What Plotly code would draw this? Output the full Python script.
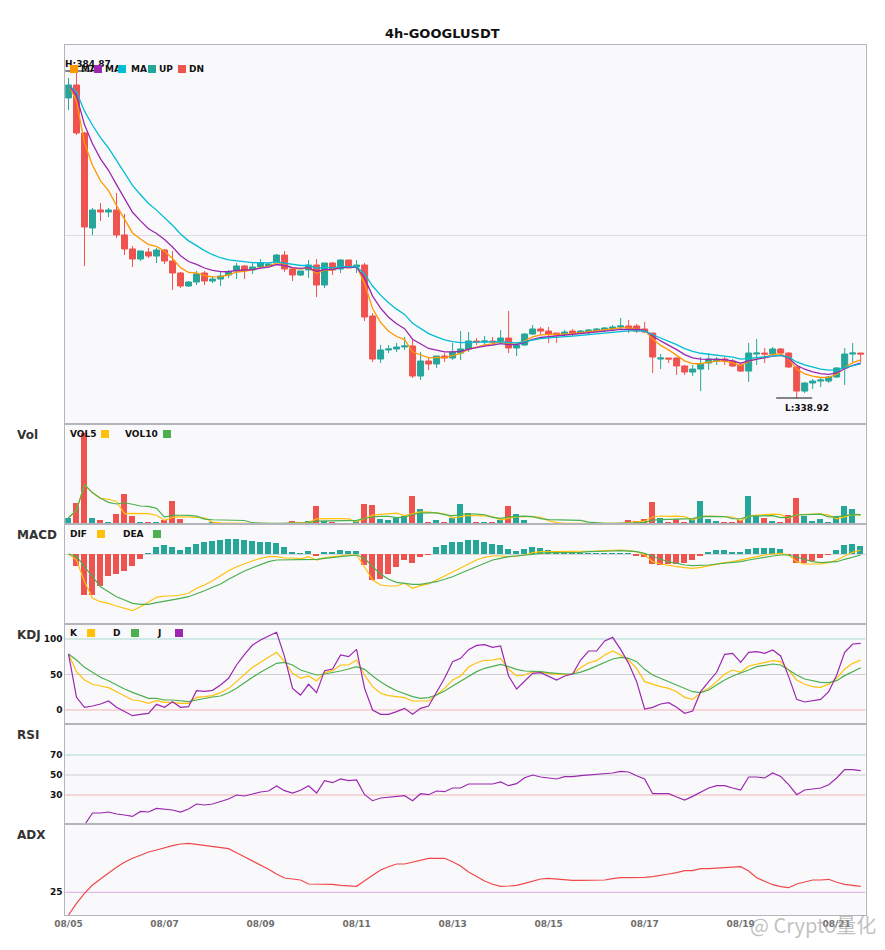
import pandas as pd
import plotly.graph_objects as go

# ---------------- data ----------------
TITLE = "4h-GOOGLUSDT"
times = pd.date_range("2025-08-05 00:00", periods=100, freq="4h")

open_ = [381.08, 382.90, 376.16, 362.81, 365.34, 365.06, 365.34, 361.83, 359.86, 358.45,
         359.44, 358.87, 359.72, 358.17, 356.49, 354.66, 355.22, 356.49, 355.36, 355.64,
         356.20, 356.77, 357.47, 356.91, 357.33, 357.47, 358.03, 359.01, 357.05, 356.20,
         356.91, 357.61, 354.80, 357.89, 357.05, 358.31, 357.33, 357.61, 350.44, 344.40,
         345.67, 345.81, 346.09, 346.23, 342.01, 344.12, 343.70, 344.82, 344.54, 345.24,
         345.81, 346.93, 346.79, 346.93, 346.93, 347.35, 345.95, 346.37, 347.91, 348.62,
         348.33, 348.05, 347.91, 348.33, 348.05, 348.19, 348.33, 348.48, 348.62, 348.90,
         349.04, 349.04, 348.62, 348.05, 344.40, 344.54, 344.54, 343.42, 342.57, 342.99,
         343.84, 344.12, 344.40, 344.12, 343.56, 342.71, 345.10, 345.24, 345.10, 345.81,
         345.24, 343.28, 339.90, 341.03, 341.31, 341.31, 341.87, 343.14, 345.10, 345.24]
high = [383.89, 384.87, 376.30, 365.62, 366.32, 365.62, 367.73, 364.78, 360.28, 359.58,
        360.00, 360.00, 359.86, 359.58, 356.63, 355.36, 356.77, 356.77, 356.06, 356.63,
        356.91, 357.89, 357.61, 357.89, 358.45, 357.89, 359.15, 359.58, 357.05, 356.77,
        358.31, 358.45, 357.89, 358.03, 358.45, 358.31, 358.31, 357.89, 350.86, 346.37,
        346.37, 346.65, 347.49, 347.07, 345.38, 344.68, 344.82, 345.24, 346.65, 348.33,
        348.19, 347.35, 347.63, 347.49, 348.48, 351.15, 346.79, 348.05, 349.18, 348.90,
        348.90, 348.05, 348.48, 348.62, 348.48, 348.62, 348.76, 348.90, 349.18, 350.16,
        349.88, 349.32, 349.60, 348.05, 345.10, 344.54, 344.68, 343.56, 343.56, 344.68,
        345.24, 344.68, 344.68, 344.40, 343.84, 346.65, 347.21, 345.95, 346.09, 345.95,
        345.38, 343.42, 341.17, 341.59, 341.87, 342.01, 343.28, 345.95, 346.65, 345.24]
low = [379.39, 375.88, 357.47, 361.83, 363.79, 364.35, 361.40, 359.01, 357.33, 358.17,
       358.59, 357.89, 357.75, 354.10, 354.38, 354.52, 354.80, 354.80, 355.08, 354.66,
       355.78, 355.64, 355.64, 356.34, 357.19, 357.33, 357.89, 356.63, 355.36, 356.06,
       355.78, 353.11, 354.38, 356.20, 356.49, 357.19, 356.49, 349.74, 343.98, 343.84,
       345.24, 345.38, 345.67, 341.73, 341.45, 342.85, 343.14, 343.98, 344.26, 344.26,
       345.38, 346.37, 346.09, 346.37, 346.65, 345.24, 344.82, 346.23, 347.77, 347.77,
       346.65, 346.65, 347.49, 347.63, 347.91, 347.91, 348.19, 348.19, 348.33, 348.48,
       348.05, 348.05, 348.05, 342.43, 342.99, 343.84, 342.15, 342.15, 342.01, 339.90,
       342.85, 343.56, 343.56, 343.28, 342.57, 341.17, 343.56, 343.84, 344.96, 344.96,
       343.14, 338.92, 339.62, 340.19, 340.47, 341.03, 341.73, 340.75, 343.84, 343.98]
close = [382.90, 376.16, 362.95, 365.34, 365.06, 365.34, 361.83, 359.86, 358.45, 359.58,
         358.87, 359.72, 358.17, 356.49, 354.66, 355.22, 356.34, 355.36, 355.64, 356.06,
         356.63, 357.47, 356.91, 357.33, 357.89, 357.75, 359.01, 357.05, 356.20, 356.77,
         357.61, 354.80, 357.89, 356.91, 358.31, 357.19, 357.61, 350.30, 344.40, 345.67,
         345.81, 346.09, 346.23, 342.01, 344.12, 343.70, 344.82, 344.54, 345.38, 345.81,
         346.93, 346.79, 346.93, 346.79, 347.35, 345.95, 346.37, 347.91, 348.62, 348.33,
         347.91, 347.77, 348.19, 348.05, 348.33, 348.48, 348.62, 348.76, 348.90, 349.04,
         348.76, 348.33, 348.19, 344.68, 344.54, 344.40, 343.42, 342.57, 342.99, 343.70,
         344.40, 344.40, 344.12, 343.42, 342.71, 345.24, 345.24, 345.10, 345.81, 345.24,
         343.28, 339.90, 341.03, 341.31, 341.45, 341.87, 343.14, 345.10, 345.24, 345.10]
volume = [6.3, 21.3, 90.7, 6.3, 4.0, 1.3, 10.0, 30.0, 8.0, 2.0,
          2.0, 2.0, 4.0, 23.0, 5.0, 1.0, 1.0, 1.0, 1.7, 0.7,
          0.5, 0.6, 0.5, 0.4, 0.5, 0.4, 0.6, 0.7, 3.0, 0.7,
          3.0, 18.0, 3.0, 2.3, 1.0, 1.0, 3.0, 20.0, 19.0, 5.0,
          4.0, 6.3, 8.0, 28.0, 14.7, 2.3, 4.0, 2.3, 6.3, 20.0,
          10.7, 2.0, 2.0, 2.0, 4.0, 18.0, 10.0, 4.0, 1.0, 0.3,
          1.0, 1.0, 0.3, 0.3, 0.3, 0.5, 0.3, 1.0, 1.0, 1.0,
          4.0, 3.0, 5.0, 22.0, 6.0, 2.0, 4.7, 2.0, 5.0, 23.0,
          5.0, 3.0, 2.0, 2.0, 4.0, 28.0, 8.0, 6.0, 3.0, 2.0,
          9.0, 26.0, 8.0, 3.0, 5.0, 2.0, 8.0, 18.0, 15.0, 0.3]
dif = [0.0, -0.6, -2.77, -4.43, -4.77, -4.93, -5.2, -5.47, -5.67, -5.27,
       -4.77, -4.33, -4.2, -4.2, -4.1, -3.93, -3.43, -3.1, -2.67, -2.13,
       -1.67, -1.27, -0.93, -0.67, -0.43, -0.27, -0.27, -0.4, -0.4, -0.48,
       -0.27, -0.6, -0.37, -0.27, -0.17, -0.1, -0.1, -1.27, -2.6, -3.1,
       -3.2, -3.2, -2.93, -3.43, -3.17, -3.0, -2.6, -2.2, -1.77, -1.33,
       -0.93, -0.6, -0.33, -0.2, -0.2, -0.27, -0.2, -0.1, 0.13, 0.23,
       0.23, 0.23, 0.23, 0.23, 0.28, 0.3, 0.3, 0.33, 0.4, 0.4,
       0.33, 0.23, -0.1, -0.77, -1.0, -1.17, -1.27, -1.37, -1.43, -1.33,
       -1.17, -1.0, -0.87, -0.77, -0.6, -0.37, -0.2, -0.1, 0.0, 0.07,
       -0.1, -0.77, -1.0, -1.0, -1.0, -0.87, -0.6, -0.2, 0.17, 0.4]
dea = [0.0, -0.23, -1.27, -2.27, -3.27, -3.77, -4.27, -4.6, -4.93, -5.03,
       -5.03, -4.87, -4.7, -4.53, -4.43, -4.27, -4.0, -3.67, -3.33, -3.0,
       -2.53, -2.1, -1.7, -1.37, -1.03, -0.77, -0.6, -0.6, -0.6, -0.53,
       -0.53, -0.53, -0.43, -0.33, -0.27, -0.17, -0.1, -0.43, -1.27, -2.0,
       -2.53, -2.83, -2.93, -3.03, -3.03, -2.93, -2.77, -2.53, -2.27, -1.93,
       -1.6, -1.2, -0.87, -0.6, -0.43, -0.27, -0.2, -0.1, -0.03, 0.07,
       0.13, 0.13, 0.13, 0.13, 0.17, 0.23, 0.23, 0.23, 0.3, 0.33,
       0.3, 0.23, 0.07, -0.27, -0.53, -0.77, -0.93, -1.1, -1.17, -1.17,
       -1.1, -1.0, -0.93, -0.87, -0.77, -0.6, -0.43, -0.33, -0.2, -0.1,
       -0.1, -0.33, -0.53, -0.77, -0.87, -0.83, -0.77, -0.53, -0.33, -0.1]
macd_hist = [0.0, -1.23, -4.07, -4.07, -3.23, -2.23, -1.97, -1.67, -1.23, -0.47,
             0.1, 0.7, 0.93, 0.7, 0.43, 0.7, 1.03, 1.17, 1.27, 1.37,
             1.5, 1.53, 1.37, 1.27, 1.17, 1.17, 1.1, 0.67, 0.2, 0.1,
             0.3, -0.2, 0.2, 0.2, 0.43, 0.3, 0.3, -1.1, -2.6, -2.53,
             -2.0, -1.27, -0.6, -0.87, -0.27, -0.1, 0.67, 0.87, 1.17, 1.23,
             1.43, 1.37, 1.23, 1.03, 0.93, 0.53, 0.3, 0.53, 0.73, 0.63,
             0.43, 0.2, 0.1, 0.1, 0.1, 0.1, 0.05, 0.05, 0.1, 0.1,
             0.05, -0.17, -0.27, -1.0, -1.1, -1.0, -1.0, -0.93, -0.6, -0.2,
             0.2, 0.43, 0.43, 0.23, 0.13, 0.53, 0.63, 0.63, 0.63, 0.53,
             -0.03, -0.87, -0.87, -0.7, -0.37, -0.1, 0.43, 0.93, 1.03, 0.83]
k_val = [78.9, 54.0, 42.3, 36.2, 33.8, 31.5, 25.8, 19.7, 14.1, 12.7,
         9.4, 13.1, 10.8, 10.8, 9.4, 9.4, 17.8, 18.8, 20.2, 24.4,
         30.5, 39.9, 50.7, 60.1, 67.1, 74.2, 81.2, 68.1, 51.6, 44.6,
         47.9, 40.8, 52.6, 55.4, 63.4, 63.4, 70.4, 49.3, 32.9, 23.5,
         20.2, 18.8, 17.4, 12.7, 12.7, 12.7, 21.1, 30.5, 42.3, 47.9,
         60.5, 66.5, 70.0, 70.4, 72.8, 57.3, 47.9, 49.3, 54.0, 53.1,
         51.6, 50.2, 50.7, 50.7, 59.6, 66.6, 69.5, 77.5, 83.1, 77.5,
         70.4, 58.7, 39.9, 36.2, 32.9, 30.5, 25.8, 17.8, 15.0, 24.4,
         30.5, 39.9, 50.7, 56.3, 53.1, 62.0, 64.8, 67.1, 69.5, 68.1,
         56.3, 42.3, 36.2, 32.9, 31.9, 36.2, 44.6, 57.7, 65.7, 70.4]
d_val = [78.9, 70.4, 60.1, 52.6, 46.0, 41.3, 35.2, 29.6, 24.9, 21.1,
         16.4, 16.4, 14.1, 14.1, 12.7, 11.7, 14.1, 16.4, 18.3, 19.7,
         24.4, 30.5, 38.5, 46.0, 53.1, 59.6, 65.7, 67.1, 63.4, 56.3,
         52.6, 49.3, 50.7, 52.6, 54.9, 57.7, 61.0, 57.3, 47.9, 39.9,
         32.9, 27.2, 22.5, 18.8, 16.4, 17.4, 21.1, 26.8, 33.8, 40.8,
         47.9, 54.0, 58.7, 62.0, 64.3, 61.0, 57.3, 54.9, 54.9, 54.0,
         52.6, 51.6, 50.7, 50.7, 53.3, 57.3, 62.0, 66.6, 71.8, 74.2,
         72.8, 68.1, 57.3, 49.3, 44.6, 39.9, 35.2, 30.5, 25.8, 24.4,
         28.2, 35.2, 42.3, 47.9, 51.6, 56.3, 61.0, 63.4, 64.8, 63.4,
         56.3, 49.3, 43.7, 41.3, 39.0, 38.5, 41.3, 48.4, 54.0, 59.6]
j_val = [78.9, 17.9, 3.8, 5.6, 8.5, 12.7, 3.8, -2.3, -8.0, -6.1,
         -4.7, 8.0, 3.8, 11.7, 3.8, 4.7, 27.2, 26.3, 27.7, 35.2,
         44.6, 63.4, 78.4, 91.5, 98.6, 104.2, 109.4, 75.1, 30.5, 21.1,
         36.2, 24.4, 55.4, 57.7, 77.5, 75.1, 85.4, 30.5, 0.0, -6.1,
         -6.1, -2.3, 2.3, -6.1, 2.3, 5.6, 25.8, 44.6, 68.1, 72.8,
         85.0, 91.0, 92.0, 88.3, 90.1, 47.9, 29.6, 39.9, 51.6, 52.6,
         47.9, 42.3, 47.9, 50.7, 70.4, 83.1, 83.1, 97.2, 102.3, 85.4,
         65.7, 39.9, 1.4, 3.8, 8.5, 10.3, 3.8, -4.7, -1.4, 25.8,
         39.9, 53.1, 78.4, 79.8, 67.1, 81.2, 82.2, 79.8, 84.5, 76.1,
         47.0, 15.0, 11.3, 12.7, 15.0, 25.8, 49.3, 81.2, 93.0, 93.9]
rsi = [None, 0.0, 0.0, 12.0, 12.0, 13.0, 11.0, 10.0, 8.6, 13.6,
       13.0, 16.6, 16.0, 15.0, 13.0, 16.0, 21.0, 20.0, 21.0, 23.6,
       26.0, 30.0, 29.0, 31.0, 33.0, 34.0, 39.0, 34.3, 32.0, 34.8,
       39.3, 32.0, 44.3, 42.3, 46.0, 44.3, 45.0, 30.3, 24.3, 27.0,
       28.0, 29.0, 29.3, 24.3, 31.3, 30.3, 34.0, 33.3, 37.0, 37.0,
       41.0, 41.0, 41.0, 41.0, 43.0, 39.3, 41.3, 47.3, 50.0, 48.0,
       47.0, 46.0, 48.3, 48.3, 49.3, 50.0, 50.0, 51.0, 52.0, 53.6,
       53.0, 49.3, 46.0, 31.3, 31.3, 31.3, 28.0, 25.0, 28.6, 32.6,
       37.0, 39.3, 39.3, 37.0, 35.0, 48.0, 48.0, 47.0, 52.0, 48.6,
       40.3, 30.3, 35.0, 36.0, 37.0, 40.3, 47.0, 55.3, 55.3, 54.3]
adx = [13.65, 19.5, 24.5, 28.65, 31.65, 34.8, 37.5, 40.0, 42.0, 43.5,
       45.15, 46.15, 47.3, 48.3, 49.15, 49.5, 49.0, 48.5, 48.0, 47.5,
       46.8, 44.8, 42.8, 40.8, 38.5, 36.5, 34.15, 32.15, 31.65, 31.15,
       29.15, 29.15, 29.15, 29.0, 28.5, 28.15, 28.0, 30.8, 33.65, 36.15,
       37.8, 39.15, 39.15, 40.0, 40.8, 42.0, 42.0, 42.0, 40.3, 38.15,
       35.15, 33.0, 30.65, 29.0, 28.0, 28.15, 28.5, 29.5, 30.65, 31.65,
       32.0, 31.65, 31.15, 31.0, 31.0, 31.0, 31.0, 31.15, 31.8, 32.3,
       32.3, 32.3, 32.5, 32.8, 33.3, 34.15, 34.8, 35.8, 35.8, 36.8,
       36.8, 37.0, 37.5, 37.5, 37.8, 35.65, 32.3, 30.5, 28.8, 27.8,
       27.3, 29.15, 30.3, 31.15, 31.15, 31.5, 30.0, 29.0, 28.5, 28.0]

tick_dates = ["2025-08-05", "2025-08-07", "2025-08-09", "2025-08-11", "2025-08-13",
              "2025-08-15", "2025-08-17", "2025-08-19", "2025-08-21"]
tick_labels = ["08/05", "08/07", "08/09", "08/11", "08/13", "08/15", "08/17", "08/19", "08/21"]

for arr in (open_, high, low, close, volume, dif, dea, macd_hist, k_val, d_val, j_val, rsi, adx):
    assert len(arr) == 100, len(arr)

# ---------------- derived series ----------------
cs = pd.Series(close)
ma_a = cs.ewm(span=5, adjust=False).mean()
ma_b = cs.ewm(span=8, adjust=False).mean()
ma_c = cs.ewm(span=13, adjust=False).mean()
vs = pd.Series(volume)
vol5 = vs.rolling(5, min_periods=1).mean()
vol10 = vs.rolling(10, min_periods=1).mean()

# ---------------- style ----------------
W, H = 885, 950
FONT = "DejaVu Sans"
UP, DN = "#26a69a", "#ef5350"
C_MA5, C_MA10, C_MA20 = "#ff9800", "#9c27b0", "#00bcd4"
YEL, GRN, PUR = "#ffc107", "#4caf50", "#9c27b0"
AX = "#b4b4bc"
BG = "#f9f9fb"
HOUR = 3600 * 1000
bar_w = 3 * HOUR

def px_x(x):
    return x / W

def px_y(y):
    return 1 - y / H

xd = [px_x(65.3), px_x(865.5)]
panels = {  # pixel top/bottom of each panel
    "": (45, 424), "2": (424, 524), "3": (524, 624), "4": (624, 724), "5": (724, 824), "6": (824, 915),
}
t0 = times[0]
x_range = [t0 - pd.Timedelta(hours=1.6), t0 + pd.Timedelta(hours=398.4)]

vol_colors = [UP if c >= o else DN for o, c in zip(open_, close)]
hist_colors = [UP if v >= 0 else DN for v in macd_hist]

fig = go.Figure()
fig.add_trace(go.Candlestick(
    x=times, open=open_, high=high, low=low, close=close,
    increasing=dict(line=dict(color=UP, width=1), fillcolor=UP),
    decreasing=dict(line=dict(color=DN, width=1), fillcolor=DN),
    xaxis="x", yaxis="y", hoverinfo="skip", name="K"))
for ser, col in ((ma_a, C_MA5), (ma_b, C_MA10), (ma_c, C_MA20)):
    fig.add_trace(go.Scatter(x=times, y=ser, mode="lines", line=dict(color=col, width=1.3),
                             xaxis="x", yaxis="y"))

fig.add_trace(go.Bar(x=times, y=volume, width=bar_w, marker=dict(color=vol_colors, line=dict(width=0)),
                     xaxis="x2", yaxis="y2"))
fig.add_trace(go.Scatter(x=times, y=vol5, mode="lines", line=dict(color=YEL, width=1.2), xaxis="x2", yaxis="y2"))
fig.add_trace(go.Scatter(x=times, y=vol10, mode="lines", line=dict(color=GRN, width=1.2), xaxis="x2", yaxis="y2"))

fig.add_trace(go.Bar(x=times, y=macd_hist, width=bar_w, marker=dict(color=hist_colors, line=dict(width=0)),
                     xaxis="x3", yaxis="y3"))
fig.add_trace(go.Scatter(x=times, y=dif, mode="lines", line=dict(color=YEL, width=1.2), xaxis="x3", yaxis="y3"))
fig.add_trace(go.Scatter(x=times, y=dea, mode="lines", line=dict(color=GRN, width=1.2), xaxis="x3", yaxis="y3"))

fig.add_trace(go.Scatter(x=times, y=k_val, mode="lines", line=dict(color=YEL, width=1.2), xaxis="x4", yaxis="y4"))
fig.add_trace(go.Scatter(x=times, y=d_val, mode="lines", line=dict(color=GRN, width=1.2), xaxis="x4", yaxis="y4"))
fig.add_trace(go.Scatter(x=times, y=j_val, mode="lines", line=dict(color=PUR, width=1.2), xaxis="x4", yaxis="y4"))

fig.add_trace(go.Scatter(x=times, y=rsi, mode="lines", line=dict(color=PUR, width=1.2), xaxis="x5", yaxis="y5"))
fig.add_trace(go.Scatter(x=times, y=adx, mode="lines", line=dict(color="#f04848", width=1.2), xaxis="x6", yaxis="y6"))

layout = dict(
    width=W, height=H, autosize=False, margin=dict(l=0, r=0, t=0, b=0, autoexpand=False),
    paper_bgcolor="white", plot_bgcolor=BG, showlegend=False,
    font=dict(family=FONT, size=9, color="#222"),
    boxgap=0.25, boxgroupgap=0, bargap=0, barmode="overlay", hovermode=False,
)
y_ranges = {"": [335.27, 388.52], "2": [0, 100], "3": [-7, 3], "4": [-19.72, 121.13],
            "5": [1, 101], "6": [13.65, 59.15]}
for key, (top, bot) in panels.items():
    xa = dict(type="date", range=x_range, domain=xd, anchor="y" + key, showgrid=False, zeroline=False,
              showline=True, mirror=True, linecolor=AX, linewidth=1, ticks="", showticklabels=False,
              fixedrange=True, automargin=False)
    if key == "":
        xa["rangeslider"] = dict(visible=False)
    if key == "6":
        xa.update(showticklabels=True, tickvals=tick_dates, ticktext=tick_labels,
                  tickfont=dict(family=FONT, size=9, color="#6e6e6e", weight="bold"))
    ya = dict(domain=[px_y(bot), px_y(top)], range=y_ranges[key], anchor="x" + key, showgrid=False,
              zeroline=False, showline=True, mirror=True, linecolor=AX, linewidth=1, ticks="",
              showticklabels=False, fixedrange=True, automargin=False,
              tickfont=dict(family=FONT, size=9, color="#111", weight="bold"))
    layout["xaxis" + key] = xa
    layout["yaxis" + key] = ya

layout["yaxis"].update(showgrid=True, tickvals=[361.7], gridcolor="#dcdce0", gridwidth=1)
layout["yaxis3"].update(zeroline=True, zerolinecolor="#d6d6d8", zerolinewidth=1)
layout["yaxis4"].update(showticklabels=True, tickvals=[0, 50, 100], ticktext=["0", "50", "100"])
layout["yaxis5"].update(showticklabels=True, tickvals=[30, 50, 70], ticktext=["30", "50", "70"])
layout["yaxis6"].update(showticklabels=True, tickvals=[25], ticktext=["25"])
fig.update_layout(**layout)

# reference levels
levels = [("4", 100, "#a6d9d3"), ("4", 50, "#cfcfd2"), ("4", 0, "#f5b3b3"),
          ("5", 70, "#a6d9d3"), ("5", 50, "#cfcfd2"), ("5", 30, "#f5b3b3"),
          ("6", 25, "#dcaae6")]
for key, lv, col in levels:
    fig.add_shape(type="line", xref="x%s domain" % key, yref="y" + key, x0=0, x1=1, y0=lv, y1=lv,
                  line=dict(color=col, width=1), layer="below")

# high / low markers
i_hi = max(range(len(high)), key=lambda i: high[i])
i_lo = min(range(len(low)), key=lambda i: low[i])
for idx, val, txt, yanc, ysh in ((i_hi, high[i_hi], "H:%.2f" % high[i_hi], "bottom", 0),
                                 (i_lo, low[i_lo], "L:%.2f" % low[i_lo], "top", -3)):
    tt = times[idx]
    fig.add_shape(type="line", xref="x", yref="y", x0=tt - pd.Timedelta(hours=10.25),
                  x1=tt + pd.Timedelta(hours=7.75), y0=val, y1=val, line=dict(color="#111", width=1.2))
    fig.add_annotation(x=tt, y=val, xref="x", yref="y", text="<b>%s</b>" % txt, showarrow=False,
                       xanchor="left", yanchor=yanc, xshift=-14, yshift=ysh,
                       font=dict(family=FONT, size=9, color="#111"))

def text_ann(x, y, txt, size=9, color="#111", anchor="left"):
    fig.add_annotation(x=px_x(x - (2 if anchor == "left" else 0)), y=px_y(y), xref="paper", yref="paper",
                       text="<b>%s</b>" % txt, showarrow=False, xanchor=anchor, yanchor="middle",
                       font=dict(family=FONT, size=size, color=color))

def square(x, y, color):
    fig.add_annotation(x=px_x(x), y=px_y(y), xref="paper", yref="paper", text=" ", showarrow=False,
                       xanchor="left", yanchor="middle", width=8, height=8, bgcolor=color,
                       borderpad=0, borderwidth=0, font=dict(size=6))

# title
text_ann(442.5, 34, TITLE, size=13, color="#111", anchor="center")

# price legend
for (sx, tx, col, lab) in ((70, 81, C_MA5, "MA"), (94, 105, C_MA10, "MA"), (118, 131, C_MA20, "MA"),
                           (148, 159, UP, "UP"), (178, 189, DN, "DN")):
    square(sx, 69, col)
    text_ann(tx, 69, lab)

# indicator legends
for (tx, sx, col, lab, yy) in ((70, 101, YEL, "VOL5", 434), (125, 163, GRN, "VOL10", 434),
                               (70, 97, YEL, "DIF", 534), (123, 153, GRN, "DEA", 534),
                               (70, 87, YEL, "K", 633), (113, 131, GRN, "D", 633), (157, 175, PUR, "J", 633)):
    text_ann(tx, yy, lab)
    square(sx, yy, col)

# panel names
for lab, yy in (("Vol", 435), ("MACD", 535), ("KDJ", 635), ("RSI", 735), ("ADX", 835)):
    text_ann(17, yy, lab, size=12, color="#333")

# watermark
fig.add_annotation(x=px_x(878), y=px_y(924), xref="paper", yref="paper", text="@ Crypto量化",
                   showarrow=False, xanchor="right", yanchor="middle",
                   font=dict(family="Noto Sans CJK SC", size=20, color="rgba(150,150,150,0.6)"))

fig.write_html("out.html", config={"displayModeBar": False},
               post_script="document.body.style.margin='0';document.body.style.overflow='hidden';")
